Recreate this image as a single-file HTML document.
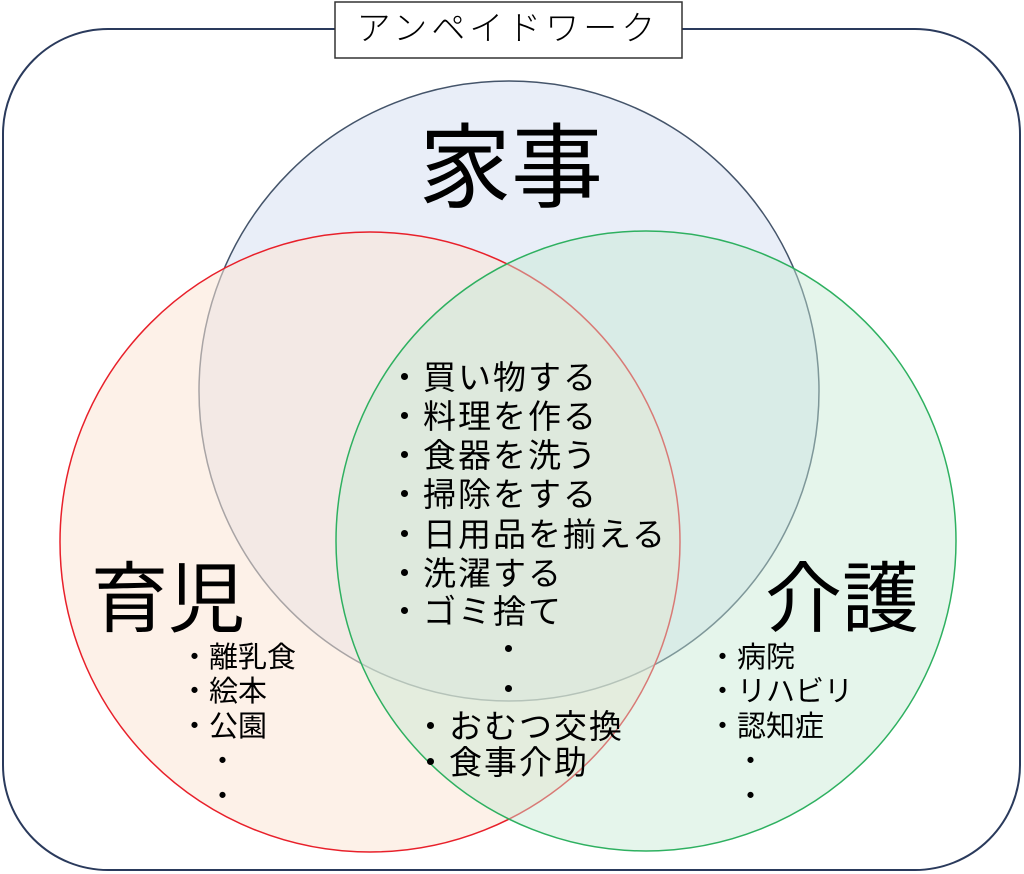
<!DOCTYPE html>
<html><head><meta charset="utf-8"><style>
html,body{margin:0;padding:0;background:#fff;}
svg{display:block;}
text{font-family:"Liberation Sans","Noto Sans CJK JP",sans-serif;fill:#000;}
</style></head><body>
<svg width="1024" height="874" xmlns="http://www.w3.org/2000/svg">
<rect x="3" y="29" width="1017" height="841" rx="105" ry="105" fill="#fff" stroke="#2a3a5c" stroke-width="2"/>
<rect x="335" y="2" width="347" height="56" fill="#fff" stroke="#333" stroke-width="1.5"/>
<text x="508" y="40" font-size="34" text-anchor="middle" font-weight="300" fill="#222" letter-spacing="4">アンペイドワーク</text>
<circle cx="509" cy="391" r="310" fill="#dae3f3" fill-opacity="0.6" stroke="#44546a" stroke-width="1.5"/>
<circle cx="370" cy="542" r="310" fill="#fbe5d6" fill-opacity="0.55" stroke="#e8202a" stroke-width="1.5"/>
<circle cx="646" cy="541" r="310" fill="#c5e8d2" fill-opacity="0.45" stroke="#2eb060" stroke-width="1.5"/>
<text x="511" y="200" font-size="92" text-anchor="middle">家事</text>
<text x="168" y="626" font-size="77" text-anchor="middle">育児</text>
<text x="842" y="626" font-size="77" text-anchor="middle">介護</text>
<g font-size="33" letter-spacing="2">
<text x="388" y="389">・買い物する</text>
<text x="388" y="428">・料理を作る</text>
<text x="388" y="467">・食器を洗う</text>
<text x="388" y="506">・掃除をする</text>
<text x="388" y="546">・日用品を揃える</text>
<text x="388" y="585">・洗濯する</text>
<text x="388" y="623">・ゴミ捨て</text>
<text x="492" y="661">・</text>
<text x="492" y="701">・</text>
<text x="414" y="738">・おむつ交換</text>
<text x="414" y="774">・食事介助</text>
</g>
<g font-size="29">
<text x="180" y="667">・離乳食</text>
<text x="180" y="701">・絵本</text>
<text x="180" y="736">・公園</text>
<text x="208" y="771">・</text>
<text x="208" y="806">・</text>
<text x="708" y="667">・病院</text>
<text x="708" y="701">・リハビリ</text>
<text x="708" y="736">・認知症</text>
<text x="736" y="771">・</text>
<text x="736" y="806">・</text>
</g>
</svg>
</body></html>
